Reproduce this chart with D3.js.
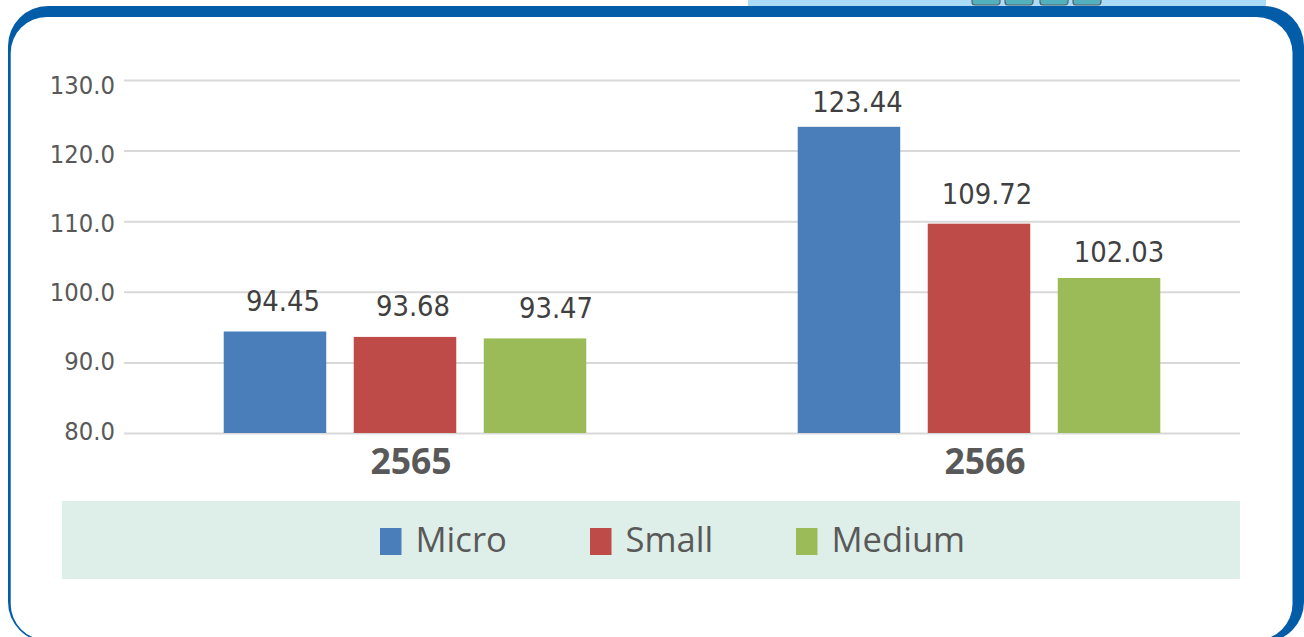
<!DOCTYPE html>
<html>
<head>
<meta charset="utf-8">
<script src="https://cdn.jsdelivr.net/npm/d3@7"></script>
<style>
html, body { margin: 0; padding: 0; background: #fff; overflow: hidden; }
svg { display: block; }
text { font-family: "Open Sans", sans-serif; }
text.ytick, text.value { font-family: "DejaVu Sans Condensed", "DejaVu Sans", sans-serif; }
</style>
</head>
<body>
<svg id="chart" width="1304" height="637"></svg>
<script>
var years = ['2565', '2566'];
var series = ['Micro', 'Small', 'Medium'];
var colors = ['#4a7ebb', '#be4b48', '#9bbb59'];
var micro = [94.45, 123.44];
var small = [93.68, 109.72];
var medium = [93.47, 102.03];
var yTicks = [80, 90, 100, 110, 120, 130];

// the value labels were placed by hand in the original, [dx, dy] from the bar top centre
var labelNudge = [
	[[8, -20], [8.5, -15]],
	[[8, -21], [8, -20]],
	[[21, -20], [10, -16]]
];

var values = [micro, small, medium];
var svg = d3.select('#chart');

// strip of the page header that shows above the frame
svg.append('rect').attr('x', 748).attr('y', 0).attr('width', 518).attr('height', 8).attr('fill', '#aadcf7');
var iconLeft = [972, 1005, 1040, 1073];
svg.selectAll('rect.icon').data(iconLeft).enter().append('rect')
	.attr('class', 'icon')
	.attr('x', function(d){ return d; })
	.attr('y', -6)
	.attr('width', 28)
	.attr('height', 11)
	.attr('rx', 3)
	.attr('fill', '#52b1bd')
	.attr('stroke', '#55606a')
	.attr('stroke-width', 1.2);

// blue frame, the inner edge is not centred on the outer one so the border varies
function roundRect(x0, y0, x1, y1, r){
	return 'M' + (x0 + r) + ' ' + y0 + ' H' + (x1 - r) + ' A' + r + ' ' + r + ' 0 0 1 ' + x1 + ' ' + (y0 + r) +
		' V' + (y1 - r) + ' A' + r + ' ' + r + ' 0 0 1 ' + (x1 - r) + ' ' + y1 +
		' H' + (x0 + r) + ' A' + r + ' ' + r + ' 0 0 1 ' + x0 + ' ' + (y1 - r) +
		' V' + (y0 + r) + ' A' + r + ' ' + r + ' 0 0 1 ' + (x0 + r) + ' ' + y0 + ' Z';
}
svg.append('path')
	.attr('d', roundRect(8, 6, 1304, 642, 40) + roundRect(10.7, 17, 1292.5, 640, 36))
	.attr('fill', '#025ca8')
	.attr('fill-rule', 'evenodd');

var y = d3.scaleLinear().domain([80, 130]).range([433.5, 80.5]);
// tick labels sit a little tighter than the grid lines in the original
var yLabel = d3.scaleLinear().domain([80, 130]).range([439.5, 93.5]);
var x0 = d3.scaleBand().domain(years).range([118, 1266]);
var x1 = d3.scaleBand().domain(series).range([0, x0.bandwidth()]).paddingInner(0.2115).paddingOuter(0.813);

// grid and value axis
svg.selectAll('line.grid').data(yTicks).enter().append('line')
	.attr('class', 'grid')
	.attr('x1', 124).attr('x2', 1240)
	.attr('y1', function(d){ return y(d); })
	.attr('y2', function(d){ return y(d); })
	.attr('stroke', '#d9d9d9')
	.attr('stroke-width', 2);

svg.selectAll('text.ytick').data(yTicks).enter().append('text')
	.attr('class', 'ytick')
	.attr('x', 115)
	.attr('y', function(d){ return yLabel(d); })
	.attr('text-anchor', 'end')
	.attr('font-size', 25.3)
	.attr('fill', '#595959')
	.text(function(d){ return d3.format('.1f')(d); });

// bars
var groups = svg.selectAll('g.year').data(years).enter().append('g')
	.attr('class', 'year')
	.attr('transform', function(d){ return 'translate(' + x0(d) + ',0)'; });

groups.each(function(yr, yi){
	var g = d3.select(this);
	series.forEach(function(s, si){
		var v = values[si][yi];
		var nudge = labelNudge[si][yi];
		g.append('rect')
			.attr('x', x1(s))
			.attr('y', y(v))
			.attr('width', x1.bandwidth())
			.attr('height', y(80) - y(v) - 0.5)
			.attr('fill', colors[si]);
		g.append('text')
			.attr('class', 'value')
			.attr('x', x1(s) + x1.bandwidth() / 2 + nudge[0])
			.attr('y', y(v) + nudge[1])
			.attr('text-anchor', 'middle')
			.attr('font-size', 28.8)
			.attr('fill', '#404040')
			.text(d3.format('.2f')(v));
	});
});

svg.selectAll('text.year').data(years).enter().append('text')
	.attr('class', 'year')
	.attr('x', function(d){ return x0(d) + x0.bandwidth() / 2 + 6; })
	.attr('y', 474)
	.attr('text-anchor', 'middle')
	.attr('font-size', 35.5)
	.attr('font-weight', 700)
	.attr('fill', '#595959')
	.text(function(d){ return d; });

// legend
svg.append('rect').attr('x', 62).attr('y', 501).attr('width', 1178).attr('height', 78).attr('fill', '#deeee8');
var legendX = d3.scaleOrdinal().domain(series).range([380, 590, 796]);
var legend = svg.selectAll('g.legend').data(series).enter().append('g')
	.attr('class', 'legend')
	.attr('transform', function(d){ return 'translate(' + legendX(d) + ',0)'; });
legend.append('rect')
	.attr('y', 528).attr('width', 21.5).attr('height', 27)
	.attr('fill', function(d, i){ return colors[i]; });
legend.append('text')
	.attr('x', 35.5).attr('y', 552)
	.attr('font-size', 34.6)
	.attr('fill', '#595959')
	.text(function(d){ return d; });
</script>
</body>
</html>
